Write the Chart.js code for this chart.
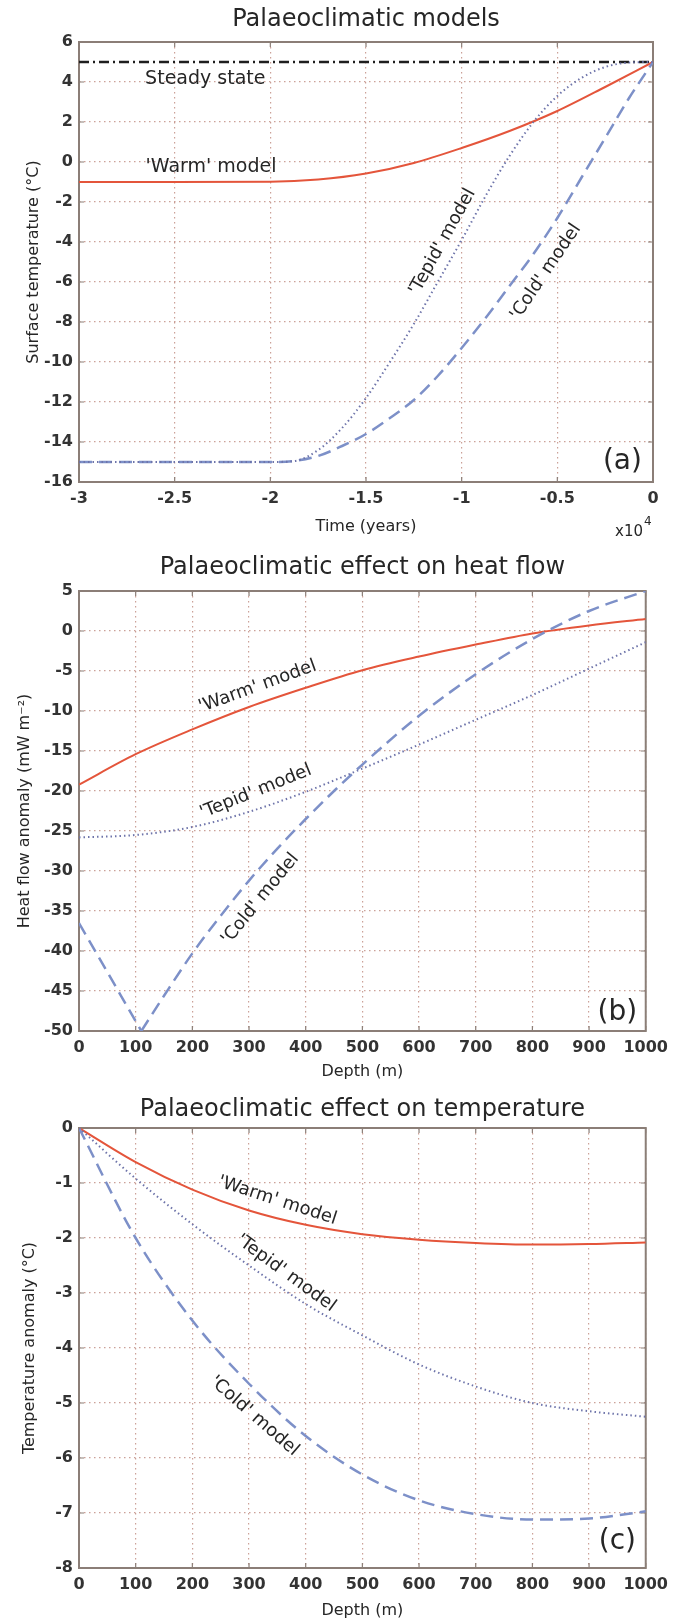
<!DOCTYPE html>
<html>
<head>
<meta charset="utf-8">
<title>Palaeoclimatic models</title>
<script src="https://cdn.jsdelivr.net/npm/chart.js@4/dist/chart.umd.min.js"></script>
<style>
    html, body { margin: 0; padding: 0; background: #ffffff; }
    #figure { position: relative; width: 675px; height: 1620px; }
    #figure canvas { position: absolute; left: 0; }
</style>
</head>
<body>
<div id="figure">
    <canvas id="chart_a" width="675" height="545" style="top:0px"></canvas>
    <canvas id="chart_b" width="675" height="540" style="top:545px"></canvas>
    <canvas id="chart_c" width="675" height="535" style="top:1085px"></canvas>
</div>
<script>
// (a) surface temperature histories; time in units of 10^4 years
var time_steady = [-3, 0];
var temp_steady = [5, 5];
var time_warm = [-3, -2.5, -2, -1.75, -1.5, -1.25, -1, -0.75, -0.5, -0.25, 0];
var temp_warm = [-1, -1, -0.99, -0.88, -0.58, -0.05, 0.7, 1.55, 2.55, 3.75, 5];
var time_tepid = [-3, -2, -1.875, -1.75, -1.625, -1.5, -1.375, -1.25, -1.125, -1, -0.875, -0.75, -0.625, -0.5, -0.375, -0.25, -0.125, 0];
var temp_tepid = [-15, -15, -14.95, -14.4, -13.3, -11.8, -10.0, -8.1, -6.0, -3.9, -1.7, 0.3, 2.0, 3.3, 4.2, 4.75, 4.97, 5];
var time_cold = [-3, -2, -1.875, -1.75, -1.625, -1.5, -1.375, -1.25, -1.125, -1, -0.875, -0.75, -0.625, -0.5, -0.375, -0.25, -0.125, 0];
var temp_cold = [-15, -15, -14.95, -14.7, -14.2, -13.6, -12.8, -11.9, -10.7, -9.3, -7.8, -6.2, -4.6, -2.8, -0.8, 1.2, 3.2, 5];

// (b) heat flow anomaly (mW m-2) against depth (m)
var depth = [0, 100, 200, 300, 400, 500, 600, 700, 800, 900, 1000];
var flow_warm = [-19.2, -15.4, -12.3, -9.5, -7.1, -4.9, -3.2, -1.7, -0.3, 0.7, 1.5];
var flow_tepid = [-25.8, -25.5, -24.5, -22.6, -20.1, -17.2, -14.2, -11.1, -8.0, -4.7, -1.4];
// the 'cold' curve has a sharp minimum, so it is kept as two arms
var depth_cold_down = [0, 110];
var flow_cold_down = [-36.5, -50];
var depth_cold_up = [110, 150, 200, 250, 300, 350, 400, 450, 500, 600, 700, 800, 900, 1000];
var flow_cold_up = [-50, -45.6, -40.3, -35.6, -31.2, -27.2, -23.5, -20.0, -16.7, -10.6, -5.4, -1.0, 2.5, 5.0];

// (c) temperature anomaly (°C) against depth (m)
var anom_warm = [0, -0.62, -1.12, -1.5, -1.76, -1.93, -2.03, -2.09, -2.12, -2.11, -2.08];
var anom_tepid = [0, -0.92, -1.75, -2.5, -3.2, -3.77, -4.3, -4.7, -5.0, -5.15, -5.25];
var anom_cold = [0, -2.0, -3.5, -4.65, -5.6, -6.3, -6.77, -7.02, -7.12, -7.1, -6.97];

var FONT = "'DejaVu Sans', Verdana, sans-serif";
var TEXT_COLOR = "#262626";
var BOX_COLOR = "#8b7e77";
var GRID_COLOR = "rgba(185, 130, 118, 0.75)";
var WARM_COLOR = "#e4553b";
var TEPID_COLOR = "#6e74aa";
var COLD_COLOR = "#7d90c8";

function make_points (xs, ys) {
    var points = [];

    for (var i = 0; i < xs.length; i++) {
        points.push({"x": xs[i], "y": ys[i]});
    }

    return points;
}

function line_set (xs, ys, color, dash, width) {
    return {
        "data": make_points(xs, ys),
        "borderColor": color,
        "borderWidth": width,
        "borderDash": dash,
        "pointRadius": 0,
        "fill": false,
        "cubicInterpolationMode": "monotone"
    };
}

// Box, inward tick marks, curve labels and the x10^4 multiplier
var figure_decor = {
    id: "figure_decor",
    beforeDatasetsDraw: function (chart) {
        var ctx = chart.ctx;
        var area = chart.chartArea;
        var sx = chart.scales.x;
        var sy = chart.scales.y;

        ctx.save();
        ctx.strokeStyle = BOX_COLOR;
        ctx.lineWidth = 1.2;
        ctx.beginPath();

        sx.ticks.forEach(function (t) {
            var px = sx.getPixelForValue(t.value);
            ctx.moveTo(px, area.bottom); ctx.lineTo(px, area.bottom - 5);
            ctx.moveTo(px, area.top); ctx.lineTo(px, area.top + 5);
        });

        sy.ticks.forEach(function (t) {
            var py = sy.getPixelForValue(t.value);
            ctx.moveTo(area.left, py); ctx.lineTo(area.left + 5, py);
            ctx.moveTo(area.right, py); ctx.lineTo(area.right - 5, py);
        });

        ctx.stroke();
        ctx.lineWidth = 2;
        ctx.strokeRect(area.left, area.top, area.right - area.left, area.bottom - area.top);
        ctx.restore();
    },
    afterDatasetsDraw: function (chart, args, opts) {
        var ctx = chart.ctx;
        var sx = chart.scales.x;
        var sy = chart.scales.y;

        ctx.save();
        ctx.fillStyle = TEXT_COLOR;
        ctx.textAlign = "center";
        ctx.textBaseline = "middle";

        (opts.labels || []).forEach(function (lab) {
            ctx.save();
            ctx.translate(sx.getPixelForValue(lab[1]), sy.getPixelForValue(lab[2]));
            ctx.rotate(lab[3] * Math.PI / 180);
            ctx.font = lab[4] + "px " + FONT;
            ctx.fillText(lab[0], 0, 0);
            ctx.restore();
        });

        if (opts.exponent) {
            var area = chart.chartArea;
            ctx.font = "15px " + FONT;
            ctx.textAlign = "right";
            ctx.fillText("x10", area.right - 10, area.bottom + 50);
            ctx.font = "12px " + FONT;
            ctx.textAlign = "left";
            ctx.fillText("4", area.right - 9, area.bottom + 40);
        }

        ctx.restore();
    }
};

function build_options (cfg) {
    return {
        "responsive": false,
        "animation": false,
        "devicePixelRatio": 1,
        "layout": {"padding": {"left": 0, "right": 22, "top": 0, "bottom": 0}},
        "scales": {
            "x": {
                "type": "linear",
                "min": cfg.x_min,
                "max": cfg.x_max,
                "ticks": {
                    "stepSize": cfg.x_step,
                    "autoSkip": false,
                    "maxRotation": 0,
                    "padding": 7,
                    "color": "#333333",
                    "font": {"family": FONT, "size": 16, "weight": "bold"},
                    "callback": function (v) { return String(Math.round(v * 100) / 100); }
                },
                "grid": {"color": GRID_COLOR, "lineWidth": 1.2, "drawTicks": false},
                "border": {"display": false, "dash": [1.5, 3.5]},
                "title": {
                    "display": true,
                    "text": cfg.x_title,
                    "color": TEXT_COLOR,
                    "font": {"family": FONT, "size": 16},
                    "padding": {"top": 0, "bottom": cfg.x_title_pad}
                },
                "afterFit": function (scale) { scale.height = cfg.x_height; }
            },
            "y": {
                "type": "linear",
                "min": cfg.y_min,
                "max": cfg.y_max,
                "ticks": {
                    "stepSize": cfg.y_step,
                    "autoSkip": false,
                    "padding": 6,
                    "color": "#333333",
                    "font": {"family": FONT, "size": 16, "weight": "bold"},
                    "callback": function (v) { return String(Math.round(v * 100) / 100); }
                },
                "grid": {"color": GRID_COLOR, "lineWidth": 1.2, "drawTicks": false},
                "border": {"display": false, "dash": [1.5, 3.5]},
                "title": {
                    "display": true,
                    "text": cfg.y_title,
                    "color": TEXT_COLOR,
                    "font": {"family": FONT, "size": 16},
                    "padding": {"top": cfg.y_title_pad, "bottom": 0}
                },
                "afterFit": function (scale) { scale.width = 79; }
            }
        },
        "plugins": {
            "legend": {"display": false},
            "tooltip": {"enabled": false},
            "title": {
                "display": true,
                "fullSize": false,
                "text": cfg.title,
                "color": TEXT_COLOR,
                "font": {"family": FONT, "size": 24, "weight": "normal", "lineHeight": 1.2},
                "padding": cfg.title_pad
            },
            "figure_decor": {"labels": cfg.labels, "exponent": cfg.exponent || false}
        }
    };
}

new Chart(document.getElementById("chart_a"), {
    "type": "line",
    "data": {
        "datasets": [
            line_set(time_tepid, temp_tepid, TEPID_COLOR, [1.5, 3], 2),
            line_set(time_cold, temp_cold, COLD_COLOR, [13, 7], 2.5),
            line_set(time_warm, temp_warm, WARM_COLOR, [], 2),
            line_set(time_steady, temp_steady, "#1e1e1e", [10, 4, 2, 4], 2.5)
        ]
    },
    "options": build_options({
        title: "Palaeoclimatic models",
        title_pad: {"top": 5.5, "bottom": 7.7},
        x_min: -3, x_max: 0, x_step: 0.5,
        y_min: -16, y_max: 6, y_step: 2,
        x_title: "Time (years)", x_title_pad: 9, x_height: 63,
        y_title: "Surface temperature (°C)", y_title_pad: 24,
        exponent: true,
        labels: [
            ["Steady state", -2.34, 4.15, 0, 19],
            ["'Warm' model", -2.31, -0.25, 0, 19],
            ["'Tepid' model", -1.1, -4.0, -61, 18],
            ["'Cold' model", -0.56, -5.5, -56, 18],
            ["(a)", -0.16, -15.0, 0, 28]
        ]
    }),
    "plugins": [figure_decor]
});

new Chart(document.getElementById("chart_b"), {
    "type": "line",
    "data": {
        "datasets": [
            line_set(depth, flow_tepid, TEPID_COLOR, [1.5, 3], 2),
            line_set(depth_cold_down, flow_cold_down, COLD_COLOR, [13, 7], 2.5),
            line_set(depth_cold_up, flow_cold_up, COLD_COLOR, [13, 7], 2.5),
            line_set(depth, flow_warm, WARM_COLOR, [], 2)
        ]
    },
    "options": build_options({
        title: "Palaeoclimatic effect on heat flow",
        title_pad: {"top": 8.5, "bottom": 8.7},
        x_min: 0, x_max: 1000, x_step: 100,
        y_min: -50, y_max: 5, y_step: 5,
        x_title: "Depth (m)", x_title_pad: 4, x_height: 54,
        y_title: "Heat flow anomaly (mW m⁻²)", y_title_pad: 15,
        labels: [
            ["'Warm' model", 315, -6.96, -20, 18],
            ["'Tepid' model", 312, -20.1, -22, 18],
            ["'Cold' model", 320, -33.5, -51, 18],
            ["(b)", 950, -47.7, 0, 28]
        ]
    }),
    "plugins": [figure_decor]
});

new Chart(document.getElementById("chart_c"), {
    "type": "line",
    "data": {
        "datasets": [
            line_set(depth, anom_tepid, TEPID_COLOR, [1.5, 3], 2),
            line_set(depth, anom_cold, COLD_COLOR, [13, 7], 2.5),
            line_set(depth, anom_warm, WARM_COLOR, [], 2)
        ]
    },
    "options": build_options({
        title: "Palaeoclimatic effect on temperature",
        title_pad: {"top": 10, "bottom": 4.2},
        x_min: 0, x_max: 1000, x_step: 100,
        y_min: -8, y_max: 0, y_step: 1,
        x_title: "Depth (m)", x_title_pad: 0, x_height: 52,
        y_title: "Temperature anomaly (°C)", y_title_pad: 20,
        labels: [
            ["'Warm' model", 350, -1.32, 18, 18],
            ["'Tepid' model", 365, -2.64, 36, 18],
            ["'Cold' model", 309, -5.24, 41, 18],
            ["(c)", 950, -7.52, 0, 28]
        ]
    }),
    "plugins": [figure_decor]
});
</script>
</body>
</html>
